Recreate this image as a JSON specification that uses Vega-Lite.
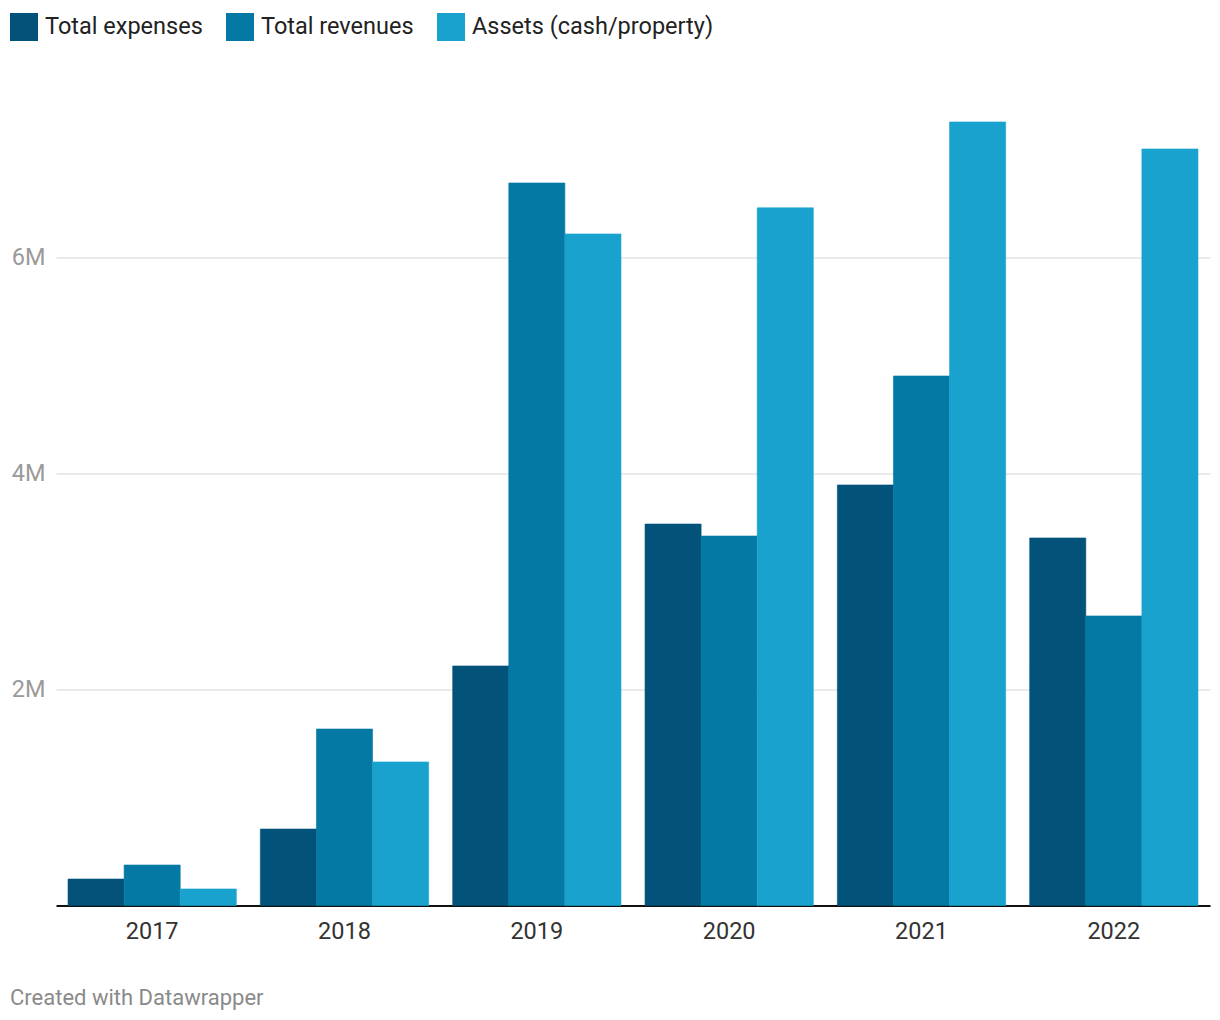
{
  "$schema": "https://vega.github.io/schema/vega-lite/v6.json",
  "width": 1154,
  "height": 810,
  "autosize": {"type": "none"},
  "padding": {"left": 56, "top": 95.5, "right": 10, "bottom": 114.5},
  "background": "white",
  "config": {
    "font": "Roboto",
    "view": {"stroke": null}
  },
  "title": {
    "text": "Created with Datawrapper",
    "orient": "bottom",
    "anchor": "start",
    "frame": "group",
    "dx": -46,
    "offset": 45,
    "baseline": "top",
    "fontSize": 22,
    "font": "Roboto",
    "fontWeight": "normal",
    "color": "#8a8a8a"
  },
  "data": {
    "values": [
      {"year": "2017", "series": "Total expenses", "value": 245000},
      {"year": "2017", "series": "Total revenues", "value": 375000},
      {"year": "2017", "series": "Assets (cash/property)", "value": 153000},
      {"year": "2018", "series": "Total expenses", "value": 708000},
      {"year": "2018", "series": "Total revenues", "value": 1634000},
      {"year": "2018", "series": "Assets (cash/property)", "value": 1329000},
      {"year": "2019", "series": "Total expenses", "value": 2218000},
      {"year": "2019", "series": "Total revenues", "value": 6690000},
      {"year": "2019", "series": "Assets (cash/property)", "value": 6218000},
      {"year": "2020", "series": "Total expenses", "value": 3532000},
      {"year": "2020", "series": "Total revenues", "value": 3421000},
      {"year": "2020", "series": "Assets (cash/property)", "value": 6460000},
      {"year": "2021", "series": "Total expenses", "value": 3894000},
      {"year": "2021", "series": "Total revenues", "value": 4903000},
      {"year": "2021", "series": "Assets (cash/property)", "value": 7255000},
      {"year": "2022", "series": "Total expenses", "value": 3403000},
      {"year": "2022", "series": "Total revenues", "value": 2681000},
      {"year": "2022", "series": "Assets (cash/property)", "value": 7005000}
    ]
  },
  "mark": {"type": "bar", "cornerRadius": 0, "strokeWidth": 0.6},
  "encoding": {
    "x": {
      "field": "year",
      "type": "nominal",
      "title": null,
      "scale": {"paddingInner": 0.125, "paddingOuter": 0.0625},
      "axis": {
        "labelAngle": 0,
        "labelFontSize": 23.5,
        "labelColor": "#333333",
        "labelPadding": 14,
        "ticks": false,
        "domain": true,
        "domainColor": "#111111",
        "domainWidth": 2,
        "grid": false
      }
    },
    "xOffset": {
      "field": "series",
      "type": "nominal",
      "sort": ["Total expenses", "Total revenues", "Assets (cash/property)"],
      "scale": {"paddingInner": 0, "paddingOuter": 0}
    },
    "y": {
      "field": "value",
      "type": "quantitative",
      "title": null,
      "scale": {"domain": [0, 7500000], "nice": false, "zero": true},
      "axis": {
        "values": [2000000, 4000000, 6000000],
        "format": "~s",
        "labelFontSize": 23.5,
        "labelColor": "#9a9a9a",
        "labelPadding": 11,
        "ticks": false,
        "domain": false,
        "grid": true,
        "gridColor": "#e3e3e3",
        "gridWidth": 1.5
      }
    },
    "stroke": {
      "field": "series",
      "type": "nominal",
      "scale": {
        "domain": ["Total expenses", "Total revenues", "Assets (cash/property)"],
        "range": ["#02527a", "#0379a4", "#19a2ce"]
      },
      "legend": null
    },
    "color": {
      "field": "series",
      "type": "nominal",
      "scale": {
        "domain": ["Total expenses", "Total revenues", "Assets (cash/property)"],
        "range": ["#02527a", "#0379a4", "#19a2ce"]
      },
      "legend": {
        "title": null,
        "orient": "none",
        "legendX": -46,
        "legendY": -82.5,
        "direction": "horizontal",
        "symbolType": "square",
        "symbolSize": 784,
        "symbolStrokeWidth": 0,
        "symbolOpacity": 1,
        "labelFontSize": 23.5,
        "labelColor": "#222222",
        "labelOffset": 7,
        "columnPadding": 23,
        "labelLimit": 400
      }
    }
  }
}
